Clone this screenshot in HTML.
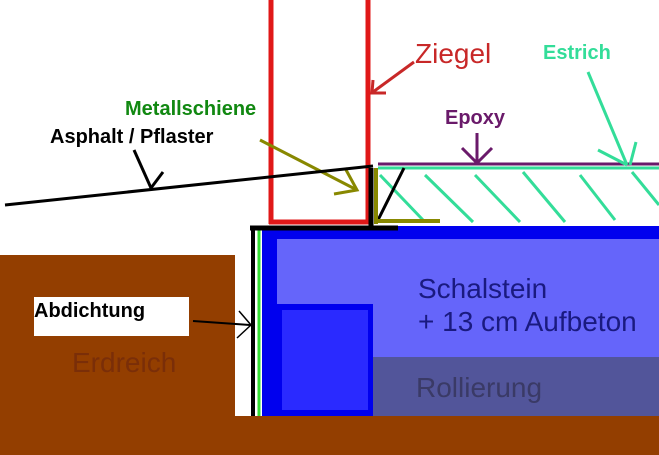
<!DOCTYPE html>
<html><head><meta charset="utf-8"><style>
html,body{margin:0;padding:0;background:#fff;}
svg{display:block;}
text{font-family:"Liberation Sans",sans-serif;}
</style></head><body>
<svg width="659" height="455" viewBox="0 0 659 455" xmlns="http://www.w3.org/2000/svg">
<rect width="659" height="455" fill="#fff"/>
<rect x="0" y="255" width="235" height="200" fill="#933e00"/>
<rect x="0" y="416" width="659" height="39" fill="#933e00"/>
<rect x="262" y="226" width="397" height="190" fill="#0000ee"/>
<rect x="277" y="239" width="382" height="118" fill="#6565fa"/>
<rect x="373" y="357" width="286" height="59" fill="#52559a"/>
<rect x="277" y="304" width="96" height="112" fill="#0000ee"/>
<rect x="282" y="310" width="86" height="100" fill="#2a2aff"/>
<text x="418" y="298" font-size="28" fill="#1a1a80">Schalstein</text>
<text x="418" y="331" font-size="28" fill="#1a1a80">+ 13 cm Aufbeton</text>
<text x="416" y="397" font-size="28" fill="#3a3a66">Rollierung</text>
<text x="72" y="372" font-size="28" fill="#7a2e08">Erdreich</text>
<line x1="259" y1="230" x2="259" y2="416" stroke="#33dd33" stroke-width="3"/>
<line x1="253" y1="228" x2="253" y2="416" stroke="#000" stroke-width="4"/>
<line x1="250" y1="228" x2="398" y2="228" stroke="#000" stroke-width="5"/>
<line x1="271" y1="0" x2="271" y2="224" stroke="#e01818" stroke-width="5"/>
<line x1="368" y1="0" x2="368" y2="224" stroke="#e01818" stroke-width="5"/>
<line x1="269" y1="222" x2="370" y2="222" stroke="#e01818" stroke-width="5"/>
<text x="415" y="63" font-size="28" fill="#c82828">Ziegel</text>
<line x1="414" y1="62" x2="373" y2="92" stroke="#c82828" stroke-width="3"/>
<polyline points="373,80 372,93 386,93" fill="none" stroke="#c82828" stroke-width="3"/>
<line x1="378" y1="164" x2="659" y2="164" stroke="#6a1a6a" stroke-width="3"/>
<line x1="378" y1="168" x2="659" y2="168" stroke="#33dd99" stroke-width="3"/>
<g stroke="#33dd99" stroke-width="3">
<line x1="380" y1="175" x2="423" y2="220"/>
<line x1="425" y1="175" x2="473" y2="222"/>
<line x1="475" y1="175" x2="520" y2="222"/>
<line x1="523" y1="172" x2="565" y2="222"/>
<line x1="580" y1="175" x2="615" y2="220"/>
<line x1="632" y1="172" x2="659" y2="205"/>
<line x1="588" y1="72" x2="627" y2="165"/>
<line x1="598" y1="150" x2="627" y2="165"/>
<line x1="636" y1="142" x2="630" y2="165"/>
</g>
<text x="543" y="59" font-size="20" font-weight="bold" fill="#33dd99">Estrich</text>
<text x="445" y="124" font-size="20" font-weight="bold" fill="#6a1a6a">Epoxy</text>
<line x1="477" y1="133" x2="477" y2="163" stroke="#6a1a6a" stroke-width="3"/>
<polyline points="462,148 477,163 492,148" fill="none" stroke="#6a1a6a" stroke-width="3"/>
<line x1="371" y1="168" x2="371" y2="228" stroke="#000" stroke-width="5"/>
<line x1="404" y1="168" x2="378" y2="220" stroke="#000" stroke-width="3"/>
<line x1="376" y1="168" x2="376" y2="224" stroke="#888800" stroke-width="4"/>
<line x1="376" y1="221" x2="440" y2="221" stroke="#888800" stroke-width="4"/>
<line x1="260" y1="140" x2="357" y2="190" stroke="#888800" stroke-width="3"/>
<polyline points="345,168 357,190 334,194" fill="none" stroke="#888800" stroke-width="3"/>
<text x="125" y="115" font-size="20" font-weight="bold" fill="#118811">Metallschiene</text>
<line x1="5" y1="205" x2="373" y2="166" stroke="#000" stroke-width="3"/>
<text x="50" y="143" font-size="20" font-weight="bold" fill="#000">Asphalt / Pflaster</text>
<line x1="134" y1="150" x2="151" y2="188" stroke="#000" stroke-width="3"/>
<line x1="163" y1="172" x2="151" y2="188" stroke="#000" stroke-width="3"/>
<rect x="34" y="297" width="155" height="39" fill="#fff"/>
<text x="34" y="317" font-size="20" font-weight="bold" fill="#000">Abdichtung</text>
<line x1="193" y1="321" x2="250" y2="325" stroke="#000" stroke-width="2"/>
<polyline points="239,311 251,325 237,338" fill="none" stroke="#000" stroke-width="1.5"/>
</svg>
</body></html>
